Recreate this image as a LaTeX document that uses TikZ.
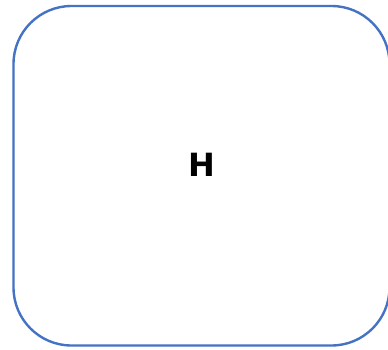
\documentclass[tikz,border=0pt]{standalone}
\usepackage{fontspec}
\setmainfont{DejaVu Sans}
\definecolor{boxblue}{HTML}{4472C4}
\begin{document}
\begin{tikzpicture}[x=1pt,y=1pt,
  boxstyle/.style={draw=boxblue,line width=2.4pt,rounded corners=58pt,minimum width=376pt,minimum height=339.5pt,inner sep=0pt},
  labelstyle/.style={font=\bfseries\fontsize{32}{36}\selectfont,inner sep=0pt}]
\useasboundingbox (0,0) rectangle (388,349);
\node[boxstyle] (box) at (201.5,173.25) {};
\node[labelstyle] (h) at (201.5,184) {H};
\end{tikzpicture}
\end{document}
